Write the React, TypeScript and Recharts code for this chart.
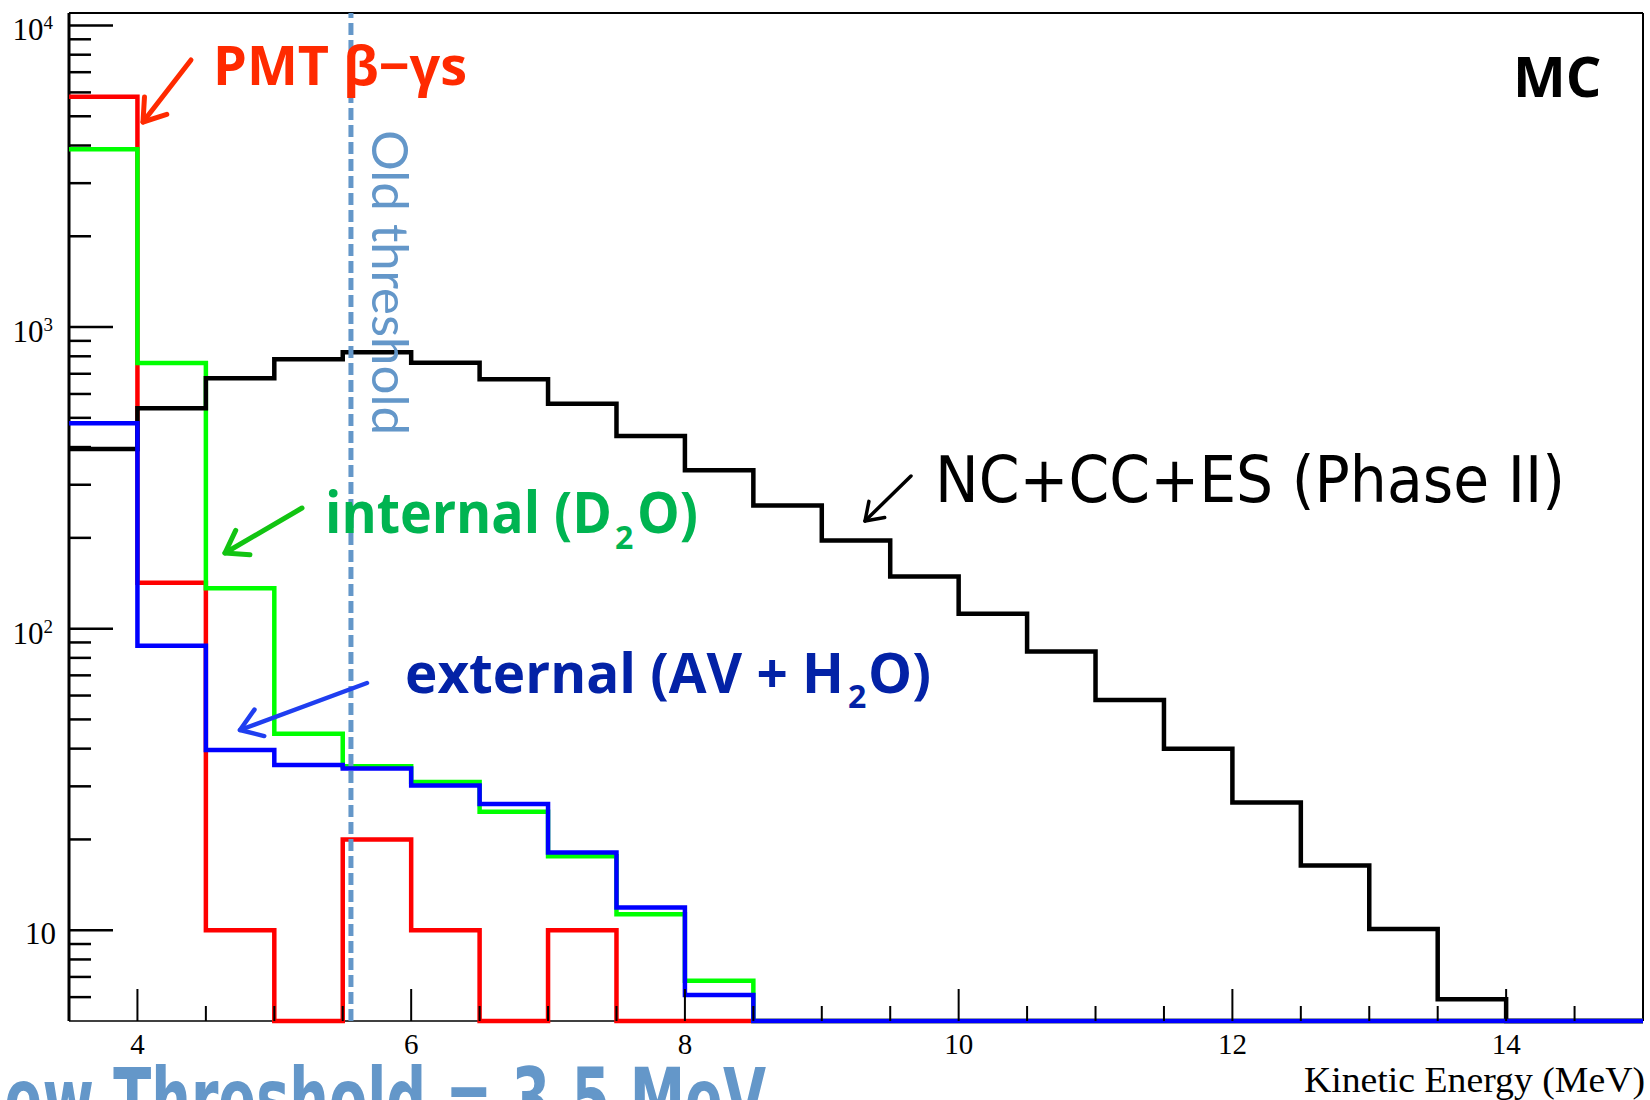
import React from 'react';
import { LineChart, Line, XAxis, YAxis, ReferenceLine } from 'recharts';

// low edges of the 0.5 MeV bins
const ENERGY = [3.5, 4.0, 4.5, 5.0, 5.5, 6.0, 6.5, 7.0, 7.5, 8.0, 8.5, 9.0, 9.5, 10.0, 10.5, 11.0, 11.5, 12.0, 12.5, 13.0, 13.5, 14.0, 14.5];
const X_MIN = 3.5;
const X_MAX = 15;
const Y_MIN = 5;
const Y_MAX = 11000;

// counts per bin (0 = empty bin, drawn on the frame floor like ROOT does)
const SIGNAL = [394, 538, 676, 782, 825, 762, 671, 557, 435, 335, 256, 196, 149, 112, 84, 58, 40, 26.5, 16.4, 10.1, 5.9, 0, 0];
const PMT = [5800, 142, 10, 0, 20, 10, 0, 10, 0, 0, 0, 0, 0, 0, 0, 0, 0, 0, 0, 0, 0, 0, 0];
const INTERNAL = [3890, 760, 136, 44.8, 35, 31, 24.7, 17.6, 11.3, 6.8, 0, 0, 0, 0, 0, 0, 0, 0, 0, 0, 0, 0, 0];
const EXTERNAL = [480, 87.7, 39.6, 35.3, 34.4, 30.2, 26.2, 18.1, 11.9, 6.1, 0, 0, 0, 0, 0, 0, 0, 0, 0, 0, 0, 0, 0];

const X_TICKS = [4, 4.5, 5, 5.5, 6, 6.5, 7, 7.5, 8, 8.5, 9, 9.5, 10, 10.5, 11, 11.5, 12, 12.5, 13, 13.5, 14, 14.5];
const X_LABELS = [4, 6, 8, 10, 12, 14];
const Y_TICKS = [6, 7, 8, 9, 10, 20, 30, 40, 50, 60, 70, 80, 90, 100, 200, 300, 400, 500, 600, 700, 800, 900, 1000, 2000, 3000, 4000, 5000, 6000, 7000, 8000, 9000, 10000];
const Y_LABELS = [10, 100, 1000, 10000];
const OLD_THRESHOLD = 5.56;

const atFloor = (v: number) => (v > 0 ? v : Y_MIN);
const last = (a: number[]) => a[a.length - 1];

const data = [
  ...ENERGY.map((e, i) => ({
    e,
    pmt: atFloor(PMT[i]),
    internal: atFloor(INTERNAL[i]),
    external: atFloor(EXTERNAL[i]),
    signal: atFloor(SIGNAL[i]),
  })),
  { e: X_MAX, pmt: atFloor(last(PMT)), internal: atFloor(last(INTERNAL)), external: atFloor(last(EXTERNAL)), signal: atFloor(last(SIGNAL)) },
];

const SERIF = 'Liberation Serif, Times New Roman, serif';

function YTick({ x, y, payload }: any) {
  const v = payload.value;
  const major = Y_LABELS.includes(v);
  const exp = Math.round(Math.log10(v));
  return (
    <g>
      <line x1={x} x2={x + (major ? 44 : 22)} y1={y} y2={y} stroke="#000" strokeWidth={2.5} />
      {major &&
        (exp === 1 ? (
          <text x={x - 13} y={y + 14} textAnchor="end" fontFamily={SERIF} fontSize={31} fill="#000">10</text>
        ) : (
          <text x={x - 16} y={y + 15} textAnchor="end" fontFamily={SERIF} fontSize={31} fill="#000">
            10<tspan fontSize={19} dy={-11}>{exp}</tspan>
          </text>
        ))}
    </g>
  );
}

function XTick({ x, y, payload }: any) {
  const v = payload.value;
  const major = X_LABELS.includes(v);
  return (
    <g>
      <line x1={x} x2={x} y1={y} y2={y - (major ? 32 : 15)} stroke="#000" strokeWidth={2} />
      {major && (
        <text x={x} y={y + 33} textAnchor="middle" fontFamily={SERIF} fontSize={29} fill="#000">{v}</text>
      )}
    </g>
  );
}

function Arrow({ from, to, color, width, head = 25 }: { from: number[]; to: number[]; color: string; width: number; head?: number }) {
  const [x1, y1] = from;
  const [x2, y2] = to;
  const ang = Math.atan2(y2 - y1, x2 - x1);
  const s = 0.6;
  const a1 = [x2 - head * Math.cos(ang - s), y2 - head * Math.sin(ang - s)];
  const a2 = [x2 - head * Math.cos(ang + s), y2 - head * Math.sin(ang + s)];
  return (
    <g stroke={color} strokeWidth={width} strokeLinecap="round" strokeLinejoin="round" fill="none">
      <line x1={x1} y1={y1} x2={x2} y2={y2} />
      <polyline points={`${a1[0]},${a1[1]} ${x2},${y2} ${a2[0]},${a2[1]}`} />
    </g>
  );
}

const SANS_BOLD = { fontFamily: 'Open Sans, Lato, sans-serif', fontWeight: 700 };

function Annotations() {
  return (
    <svg width={1650} height={1100} style={{ position: 'absolute', left: 0, top: 0, pointerEvents: 'none' }}>
      {/* PMT */}
      <text x={213} y={85} {...SANS_BOLD} fontSize={53} fill="#ff2a00" textLength={254} lengthAdjust="spacingAndGlyphs">PMT β−γs</text>
      <Arrow from={[191, 60]} to={[143, 122]} color="#ff2a00" width={5} />

      {/* internal */}
      <text x={325} y={533} {...SANS_BOLD} fontSize={58} fill="#00b451" textLength={287} lengthAdjust="spacingAndGlyphs">internal (D</text>
      <text x={615} y={549} {...SANS_BOLD} fontSize={32} fill="#00b451">2</text>
      <text x={637} y={533} {...SANS_BOLD} fontSize={58} fill="#00b451" textLength={61} lengthAdjust="spacingAndGlyphs">O)</text>
      <Arrow from={[302, 508]} to={[225, 553]} color="#12c412" width={5} />

      {/* external */}
      <text x={405} y={693} {...SANS_BOLD} fontSize={56} fill="#0322a6" textLength={439} lengthAdjust="spacingAndGlyphs">external (AV + H</text>
      <text x={848} y={708} {...SANS_BOLD} fontSize={32} fill="#0322a6">2</text>
      <text x={868} y={693} {...SANS_BOLD} fontSize={56} fill="#0322a6" textLength={63} lengthAdjust="spacingAndGlyphs">O)</text>
      <Arrow from={[367, 683]} to={[240, 730]} color="#1f3ef0" width={4.5} />

      {/* signal */}
      <text x={935} y={502} fontFamily="DejaVu Sans, sans-serif" fontSize={64} fill="#000" textLength={630} lengthAdjust="spacingAndGlyphs">NC+CC+ES (Phase II)</text>
      <Arrow from={[911, 476]} to={[865, 521]} color="#000" width={3.5} head={20} />

      <text x={1513} y={97} {...SANS_BOLD} fontSize={56} fill="#000">MC</text>

      <text transform="translate(372,130) rotate(90)" fontFamily="Lato, sans-serif" fontSize={51} fill="#6497c9" textLength={305} lengthAdjust="spacingAndGlyphs">Old threshold</text>

      <text transform="translate(-42,1128) scale(1,1.4)" fontFamily="DejaVu Sans, sans-serif" fontWeight={700} fontSize={60} fill="#6497c9" textLength={808} lengthAdjust="spacingAndGlyphs">New Threshold = 3.5 MeV</text>

      <text x={1645} y={1092} textAnchor="end" fontFamily={SERIF} fontSize={35} fill="#000" textLength={341} lengthAdjust="spacingAndGlyphs">Kinetic Energy (MeV)</text>
    </svg>
  );
}

export default function App() {
  return (
    <div style={{ position: 'absolute', left: 0, top: 0, width: 1650, height: 1100, background: '#fff', overflow: 'hidden' }}>
      <LineChart width={1650} height={1100} data={data} margin={{ top: 13, right: 7, left: 0, bottom: 0 }}>
        <XAxis
          dataKey="e"
          type="number"
          domain={[X_MIN, X_MAX]}
          ticks={X_TICKS}
          interval={0}
          tick={<XTick />}
          tickLine={false}
          tickSize={0}
          tickMargin={0}
          height={79}
          axisLine={{ stroke: '#000', strokeWidth: 1.5 }}
        />
        <YAxis
          type="number"
          scale="log"
          domain={[Y_MIN, Y_MAX]}
          ticks={Y_TICKS}
          interval={0}
          tick={<YTick />}
          tickLine={false}
          tickSize={0}
          tickMargin={0}
          width={69}
          axisLine={{ stroke: '#000', strokeWidth: 3 }}
        />
        <ReferenceLine y={Y_MAX} stroke="#000" strokeWidth={2} />
        <ReferenceLine x={X_MAX} stroke="#000" strokeWidth={2} />
        <Line type="stepAfter" dataKey="pmt" stroke="#ff0000" strokeWidth={4.5} dot={false} isAnimationActive={false} zIndex={600} />
        <Line type="stepAfter" dataKey="internal" stroke="#00ff00" strokeWidth={4.5} dot={false} isAnimationActive={false} zIndex={601} />
        <Line type="stepAfter" dataKey="signal" stroke="#000000" strokeWidth={4.5} dot={false} isAnimationActive={false} zIndex={602} />
        <Line type="stepAfter" dataKey="external" stroke="#0000ff" strokeWidth={4.5} dot={false} isAnimationActive={false} zIndex={603} />
        <ReferenceLine x={OLD_THRESHOLD} stroke="#6497c9" strokeWidth={5} strokeDasharray="12 5" zIndex={700} />
      </LineChart>
      <Annotations />
    </div>
  );
}
